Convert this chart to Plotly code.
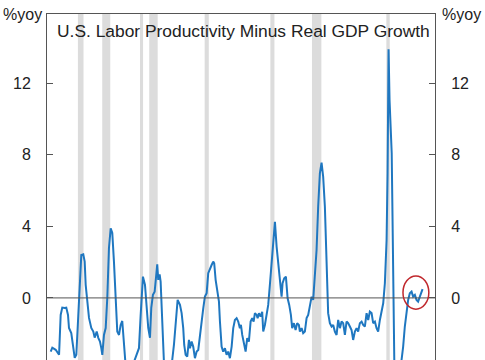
import plotly.graph_objects as go

# --- data ---
years = [1965.50, 1965.76, 1966.31, 1966.86, 1967.12, 1967.38, 1967.77, 1968.03, 1968.31, 1968.47,
         1968.84, 1969.17, 1969.40, 1969.66, 1969.93, 1970.21, 1970.47, 1970.79, 1971.02, 1971.18,
         1971.44, 1971.72, 1972.09, 1972.42, 1972.64, 1972.97, 1973.23, 1973.50, 1973.71, 1973.88,
         1974.15, 1974.43, 1974.69, 1974.96, 1975.24, 1975.50, 1975.77, 1976.05, 1976.31, 1976.59,
         1976.86, 1977.12, 1977.40, 1977.67, 1978.37, 1979.02, 1979.46, 1979.83, 1980.11, 1980.48,
         1980.81, 1981.08, 1981.34, 1981.62, 1981.83, 1982.10, 1982.38, 1982.64, 1982.80, 1982.96,
         1983.19, 1983.35, 1983.61, 1983.89, 1984.70, 1985.19, 1985.51, 1985.84, 1986.11, 1986.49,
         1986.76, 1987.02, 1987.18, 1987.41, 1987.67, 1987.95, 1988.11, 1988.38, 1988.64, 1988.92,
         1989.20, 1989.46, 1989.73, 1990.01, 1990.27, 1990.54, 1990.82, 1991.08, 1991.35, 1991.63,
         1991.89, 1992.05, 1992.28, 1992.54, 1992.82, 1992.98, 1993.25, 1993.51, 1993.79, 1994.06,
         1994.32, 1994.60, 1994.88, 1995.14, 1995.41, 1995.69, 1995.95, 1996.22, 1996.39, 1996.60,
         1996.87, 1997.15, 1997.41, 1997.68, 1997.96, 1998.22, 1998.45, 1998.66, 1998.94, 1999.10,
         1999.31, 1999.58, 1999.84, 2000.01, 2000.28, 2000.56, 2000.82, 2001.09, 2001.37, 2001.63,
         2001.91, 2002.18, 2002.44, 2002.72, 2002.99, 2003.15, 2003.42, 2003.69, 2003.97, 2004.23,
         2004.50, 2004.71, 2004.99, 2005.26, 2005.52, 2005.80, 2005.96, 2006.24, 2006.50, 2006.77,
         2007.05, 2007.31, 2007.59, 2007.87, 2008.12, 2008.40, 2008.67, 2008.93, 2009.21, 2009.48,
         2009.74, 2010.02, 2010.30, 2010.55, 2010.83, 2011.11, 2011.37, 2011.64, 2011.92, 2012.18,
         2012.46, 2012.73, 2012.99, 2013.27, 2013.54, 2013.80, 2014.08, 2014.35, 2014.61, 2014.89,
         2015.17, 2015.42, 2015.70, 2015.98, 2016.24, 2016.51, 2016.79, 2017.05, 2017.32, 2017.60,
         2017.86, 2018.14, 2018.41, 2018.67, 2018.95, 2019.23, 2019.49, 2019.76, 2020.04, 2020.20,
         2020.36, 2020.52, 2020.87, 2021.00, 2021.16, 2021.29, 2021.70, 2022.19, 2022.47, 2022.73,
         2023.00, 2023.28, 2023.54, 2023.81, 2024.09, 2024.35, 2024.63, 2024.90, 2025.16, 2025.44,
         2025.72, 2025.88]
values = [-3.00, -2.78, -2.90, -3.18, -0.95, -0.54, -0.56, -0.54, -0.95, -1.68,
          -1.96, -2.79, -3.35, -3.18, -1.51, 0.91, 2.40, 2.44, 2.03, 0.73,
          0.00, -1.12, -1.68, -1.88, -2.22, -1.88, -2.23, -2.44, -2.79, -3.18,
          -2.07, -1.68, 0.00, 2.79, 3.89, 3.63, 2.03, 0.00, -1.88, -2.07,
          -1.51, -1.29, -2.63, -3.80, -4.20, -3.60, -3.18, -2.81, -0.95, 1.19,
          0.73, -0.56, -1.68, -2.23, -0.56, 0.17, 0.35, 1.29, 1.88, 1.01,
          1.32, 0.91, -0.95, -3.60, -4.20, -3.60, -2.63, -1.34, -0.11, -0.39,
          -0.85, -1.69, -2.63, -3.18, -3.28, -2.35, -2.81, -2.44, -2.72, -3.37,
          -3.00, -2.91, -2.07, -1.32, -0.58, 0.07, 0.26, 1.38, 1.66, 1.84,
          2.03, 1.94, 1.01, 0.45, -0.21, -1.32, -2.72, -3.00, -2.81, -3.18,
          -3.00, -3.37, -2.72, -1.69, -1.23, -1.13, -1.32, -1.69, -1.51, -2.07,
          -2.63, -3.00, -2.25, -2.44, -1.32, -1.13, -1.32, -0.85, -0.95, -1.13,
          -0.85, -1.04, -0.77, -1.88, -1.51, -0.95, -0.39, 0.73, 2.03, 2.96,
          4.26, 2.87, 2.03, 1.10, 0.07, 0.82, 1.10, 1.19, -0.02, -0.39,
          -0.95, -1.69, -1.41, -1.79, -1.41, -1.51, -1.88, -1.69, -1.97, -1.88,
          -1.13, -0.95, -0.30, 0.07, -0.11, 1.19, 2.68, 5.10, 6.97, 7.56,
          6.78, 5.10, 2.31, -0.85, -1.41, -1.60, -1.51, -1.88, -2.07, -1.23,
          -1.69, -1.32, -1.41, -2.07, -1.32, -1.41, -1.60, -1.79, -2.35, -1.88,
          -1.69, -1.88, -1.41, -1.32, -1.51, -1.60, -0.85, -1.23, -0.77, -0.85,
          -1.41, -1.32, -1.69, -1.88, -1.23, -0.67, -0.30, 0.82, 3.24, 6.97,
          13.90, 11.06, 8.10, 4.58, 0.45, -3.46, -5.00, -5.00, -3.46, -2.72,
          -1.60, -0.67, -0.11, 0.26, 0.35, 0.07, 0.17, -0.11, -0.21, 0.07,
          0.35, 0.49]

recession_starts = [1969.92, 1973.87, 1980.00, 1981.50, 1990.50, 2001.17, 2007.92, 2020.00]
recession_ends = [1970.83, 1975.17, 1980.50, 1982.87, 1991.17, 2001.83, 2009.45, 2020.55]

y_ticks = [0, 4, 8, 12]
y_tick_labels = ["0", "4", "8", "12"]
x_range = [1964.9, 2027.9]
y_range = [-3.47, 15.87]
highlight_x = [2022.7, 2026.9]
highlight_y = [-0.63, 1.23]

title_text = "U.S. Labor Productivity Minus Real GDP Growth"
unit_text = "%yoy"

FONT = "Liberation Sans, Arial, sans-serif"
TEXT = "#222222"
AXIS = "#555555"

fig = go.Figure()
fig.add_trace(go.Scatter(x=years, y=values, mode="lines",
                         line=dict(color="#1f77c0", width=2),
                         hoverinfo="skip", showlegend=False))
# invisible trace to carry the right-hand axis
fig.add_trace(go.Scatter(x=years, y=values, mode="lines", yaxis="y2",
                         line=dict(width=0), opacity=0,
                         hoverinfo="skip", showlegend=False))

shapes = []
for s, e in zip(recession_starts, recession_ends):
    shapes.append(dict(type="rect", xref="x", yref="paper", x0=s, x1=e, y0=0, y1=1,
                       fillcolor="#dcdcdc", line=dict(width=0), layer="below"))
shapes.append(dict(type="line", xref="paper", yref="y", x0=0, x1=1, y0=0, y1=0,
                   line=dict(color=AXIS, width=1), layer="above"))
shapes.append(dict(type="circle", xref="x", yref="y",
                   x0=highlight_x[0], x1=highlight_x[1], y0=highlight_y[0], y1=highlight_y[1],
                   line=dict(color="#c0282d", width=1.5), layer="above"))

axis_common = dict(range=y_range, tickvals=y_ticks, ticktext=y_tick_labels,
                   ticks="inside", ticklen=6, tickcolor=AXIS, tickwidth=1,
                   ticklabelstandoff=12,
                   showline=True, linecolor=AXIS, linewidth=1,
                   showgrid=False, zeroline=False, fixedrange=True,
                   tickfont=dict(family=FONT, size=16, color=TEXT))

fig.update_layout(
    width=485, height=360,
    margin=dict(l=47, r=50, t=14, b=0, pad=0),
    paper_bgcolor="white", plot_bgcolor="white",
    xaxis=dict(range=x_range, side="top", showline=True, linecolor=AXIS, linewidth=1,
               showticklabels=False, ticks="", showgrid=False, zeroline=False),
    yaxis=dict(side="left", **axis_common),
    yaxis2=dict(side="right", overlaying="y", **axis_common),
    shapes=shapes,
    annotations=[
        dict(text=title_text, xref="paper", yref="paper", x=0.5, y=1, yshift=-17, xshift=2,
             xanchor="center", yanchor="middle", showarrow=False,
             font=dict(family=FONT, size=17.4, color=TEXT)),
        dict(text=unit_text, xref="paper", yref="paper", x=0, y=1, xshift=-25,
             xanchor="center", yanchor="middle", showarrow=False,
             font=dict(family=FONT, size=16, color=TEXT)),
        dict(text=unit_text, xref="paper", yref="paper", x=1, y=1, xshift=26,
             xanchor="center", yanchor="middle", showarrow=False,
             font=dict(family=FONT, size=16, color=TEXT)),
    ],
    showlegend=False,
)

fig.write_html("out.html", config={"displayModeBar": False})
